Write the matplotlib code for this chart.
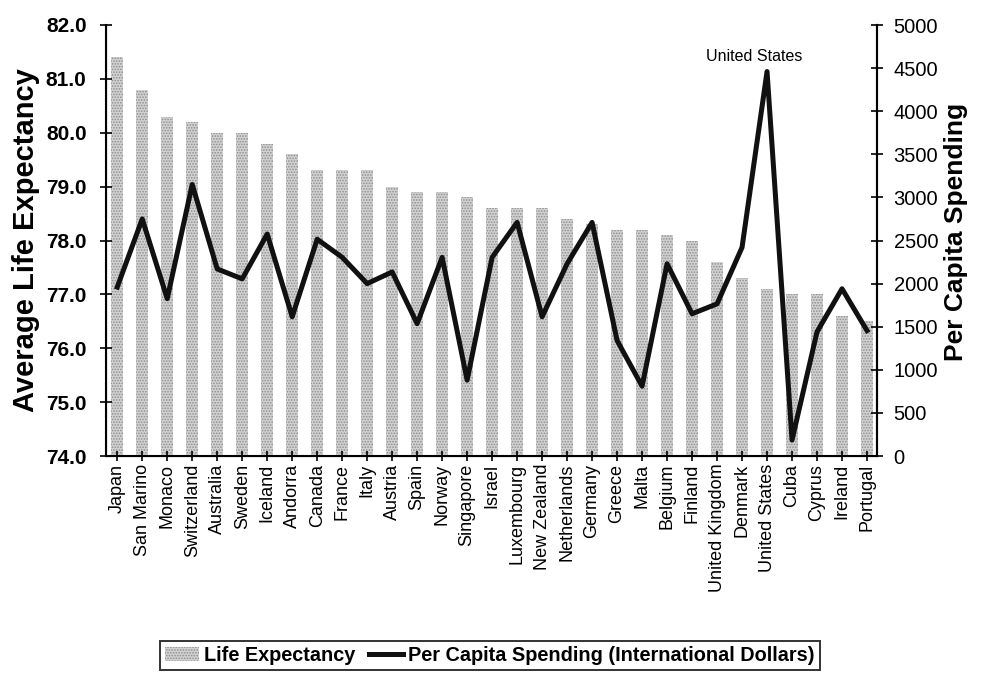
import matplotlib
matplotlib.use("Agg")
import matplotlib.pyplot as plt
import numpy as np
from matplotlib.patches import Patch
from matplotlib.lines import Line2D

countries = ["Japan", "San Marino", "Monaco", "Switzerland", "Australia", "Sweden",
             "Iceland", "Andorra", "Canada", "France", "Italy", "Austria", "Spain",
             "Norway", "Singapore", "Israel", "Luxembourg", "New Zealand", "Netherlands",
             "Germany", "Greece", "Malta", "Belgium", "Finland", "United Kingdom",
             "Denmark", "United States", "Cuba", "Cyprus", "Ireland", "Portugal"]
life_exp = [81.4, 80.8, 80.3, 80.2, 80.0, 80.0, 79.8, 79.6, 79.3, 79.3, 79.3, 79.0,
            78.9, 78.9, 78.8, 78.6, 78.6, 78.6, 78.4, 78.3, 78.2, 78.2, 78.1, 78.0,
            77.6, 77.3, 77.1, 77.0, 77.0, 76.6, 76.5]
spending = [1960, 2750, 1825, 3150, 2170, 2055, 2575, 1615, 2515, 2305, 2000, 2135,
            1535, 2305, 880, 2305, 2710, 1615, 2230, 2710, 1340, 810, 2230, 1650,
            1765, 2420, 4460, 185, 1440, 1940, 1455]
left_ticks = [74.0, 75.0, 76.0, 77.0, 78.0, 79.0, 80.0, 81.0, 82.0]
right_ticks = [0, 500, 1000, 1500, 2000, 2500, 3000, 3500, 4000, 4500, 5000]

plt.rcParams['font.family'] = ['Liberation Sans', 'DejaVu Sans']
plt.rcParams['hatch.linewidth'] = 0.8

fig = plt.figure(figsize=(9.83, 6.73), dpi=100)
ax = fig.add_axes([106/983, 1-456/673, (877-106)/983, (456-25)/673])
x = np.arange(len(countries))

bar_color = '#d2d2d2'
hatch_color = '#8e8e8e'
ax.bar(x, [v - 74 for v in life_exp], bottom=74, width=0.48, color=bar_color,
       hatch='......', edgecolor=hatch_color, linewidth=0)
ax.set_ylim(74, 82)
ax.set_xlim(-0.45, len(countries) - 0.6)
ax.set_yticks(left_ticks)
ax.set_yticklabels([f"{t:.1f}" for t in left_ticks], fontsize=15, fontweight='bold')
ax.set_xticks(x)
ax.set_xticklabels(countries, rotation=90, fontsize=13)
ax.tick_params(axis='x', direction='inout', length=7, width=1.2, pad=2)
ax.tick_params(axis='y', direction='inout', length=8, width=1.2, pad=10)
ax.set_ylabel("Average Life Expectancy", fontsize=21, fontweight='bold')
ax.yaxis.set_label_coords(-0.086, 0.50)
ax.spines['top'].set_visible(False)
for s in ['left', 'right', 'bottom']:
    ax.spines[s].set_linewidth(1.5)

ax2 = ax.twinx()
ax2.plot(x, spending, color='#111111', linewidth=3.6)
ax2.set_ylim(0, 5000)
ax2.set_yticks(right_ticks)
ax2.set_yticklabels([str(t) for t in right_ticks], fontsize=14.5)
ax2.tick_params(axis='y', direction='inout', length=8, width=1.2, pad=8)
ax2.set_ylabel("Per Capita Spending", fontsize=19, fontweight='bold')
ax2.yaxis.set_label_coords(1.087, 0.52)
ax2.spines['top'].set_visible(False)
ax2.spines['right'].set_linewidth(1.5)
us = countries.index("United States")
ax2.annotate("United States", (x[us], spending[us]), xytext=(-9, 11),
             textcoords='offset points', ha='center', va='center', fontsize=11.5)

handles = [Patch(facecolor=bar_color, hatch='......', edgecolor=hatch_color, linewidth=0),
           Line2D([0], [0], color='#111111', linewidth=3.6)]
leg = fig.legend(handles, ["Life Expectancy", "Per Capita Spending (International Dollars)"],
                 loc='lower center', bbox_to_anchor=(490/983, 3/673), ncol=2,
                 prop={'size': 14.3, 'weight': 'bold'}, frameon=True, fancybox=False,
                 edgecolor='black', handlelength=1.7, handletextpad=0.25,
                 columnspacing=0.7, borderpad=0.25, borderaxespad=0)
leg.get_frame().set_linewidth(1.4)

fig.savefig("out.png", dpi=100)
